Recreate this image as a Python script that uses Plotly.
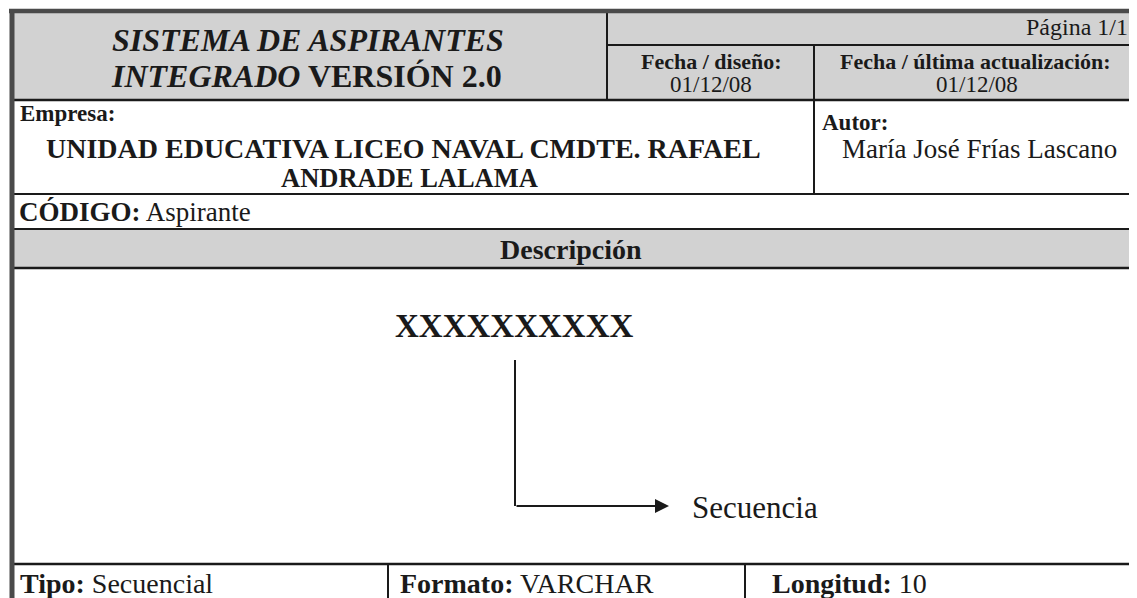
import plotly.graph_objects as go

W, H = 1137, 598
OFF = 8  # default <body> margin of the page; axes are set so data units == page pixels
SERIF = "Liberation Serif, Times New Roman, serif"

# ---- text content ----
title_lines = ["<b><i>SISTEMA DE ASPIRANTES</i></b>", "<b><i>INTEGRADO</i> VERSIÓN 2.0</b>"]
page_label = "Página 1/1"
date_headers = ["<b>Fecha / diseño:</b>", "<b>Fecha / última actualización:</b>"]
date_values = ["01/12/08", "01/12/08"]
empresa_label = "<b>Empresa:</b>"
empresa_lines = ["<b>UNIDAD EDUCATIVA LICEO NAVAL CMDTE. RAFAEL</b>", "<b>ANDRADE LALAMA</b>"]
autor_label = "<b>Autor:</b>"
autor_name = "María José Frías Lascano"
codigo_text = "<b>CÓDIGO:</b> Aspirante"
section_title = "<b>Descripción</b>"
code_mask = "<b>XXXXXXXXXX</b>"
code_part = "Secuencia"
footer_fields = ["<b>Tipo:</b> Secuencial", "<b>Formato:</b> VARCHAR", "<b>Longitud:</b> 10"]

GRAY = "#d2d2d2"
INK = "#1a1a1a"
BORDER = "#4a4a4a"

fig = go.Figure()
shapes = []

def rect(x0, y0, x1, y1, fill):
    shapes.append(dict(type="rect", xref="x", yref="y", x0=x0, y0=y0, x1=x1, y1=y1,
                       fillcolor=fill, line=dict(width=0), layer="below"))

def line(x0, y0, x1, y1, w=2, c=INK):
    shapes.append(dict(type="line", xref="x", yref="y", x0=x0, y0=y0, x1=x1, y1=y1,
                       line=dict(color=c, width=w)))

# gray areas
rect(12, 11, W + 5, 100, GRAY)
rect(12, 229, W + 5, 268, GRAY)

# grid lines
line(607, 45, W + 5, 45, 2)         # under Página
line(607, 11, 607, 100, 2)          # title / right block
line(814, 45, 814, 194, 2)          # fecha split & autor split
line(12, 100, W + 5, 100, 2.5)
line(12, 194, W + 5, 194, 2)
line(12, 229, W + 5, 229, 2)
line(12, 268, W + 5, 268, 2.5)
line(12, 564, W + 5, 564, 2.5)
line(388, 564, 388, H + 5, 2)
line(745, 564, 745, H + 5, 2)
# thick outer border
line(9, 11, W + 5, 11, 4.5, BORDER)
line(12, 9, 12, H + 5, 5, BORDER)

# diagram connector
line(515, 360, 515, 506, 2)

def text(x, y, s, size, anchor="center", color=INK):
    fig.add_annotation(x=x, y=y, xref="x", yref="y", text=s, showarrow=False,
                       xanchor=anchor, yanchor="middle",
                       font=dict(family=SERIF, size=size, color=color))

text(308, 40, title_lines[0], 32)
text(306, 76, title_lines[1], 32)
text(1130, 27, page_label, 24, "right")
text(711, 61, date_headers[0], 22)
text(711, 84, date_values[0], 23)
text(975, 61, date_headers[1], 22)
text(977, 84, date_values[1], 23)
text(18, 113, empresa_label, 23, "left")
text(403, 148, empresa_lines[0], 28)
text(409, 178, empresa_lines[1], 26.5)
text(820, 122, autor_label, 23, "left")
text(840, 149, autor_name, 27, "left")
text(17, 212, codigo_text, 27, "left")
text(571, 249, section_title, 28)
text(514, 326, code_mask, 33)
text(690, 507, code_part, 31, "left")
text(18, 583, footer_fields[0], 28, "left")
text(398, 583, footer_fields[1], 28, "left")
text(770, 583, footer_fields[2], 28, "left")

# arrow
fig.add_annotation(x=669, y=506, ax=515, ay=506, xref="x", yref="y", axref="x", ayref="y",
                   text="", showarrow=True, arrowhead=2, arrowsize=1.4, arrowwidth=2,
                   arrowcolor=INK)

fig.update_layout(
    width=W - OFF, height=H - OFF, margin=dict(l=0, r=0, t=0, b=0),
    paper_bgcolor="white", plot_bgcolor="white", showlegend=False,
    shapes=shapes,
    xaxis=dict(range=[OFF, W], visible=False, fixedrange=True),
    yaxis=dict(range=[H, OFF], visible=False, fixedrange=True),
)

fig.write_html("out.html")
